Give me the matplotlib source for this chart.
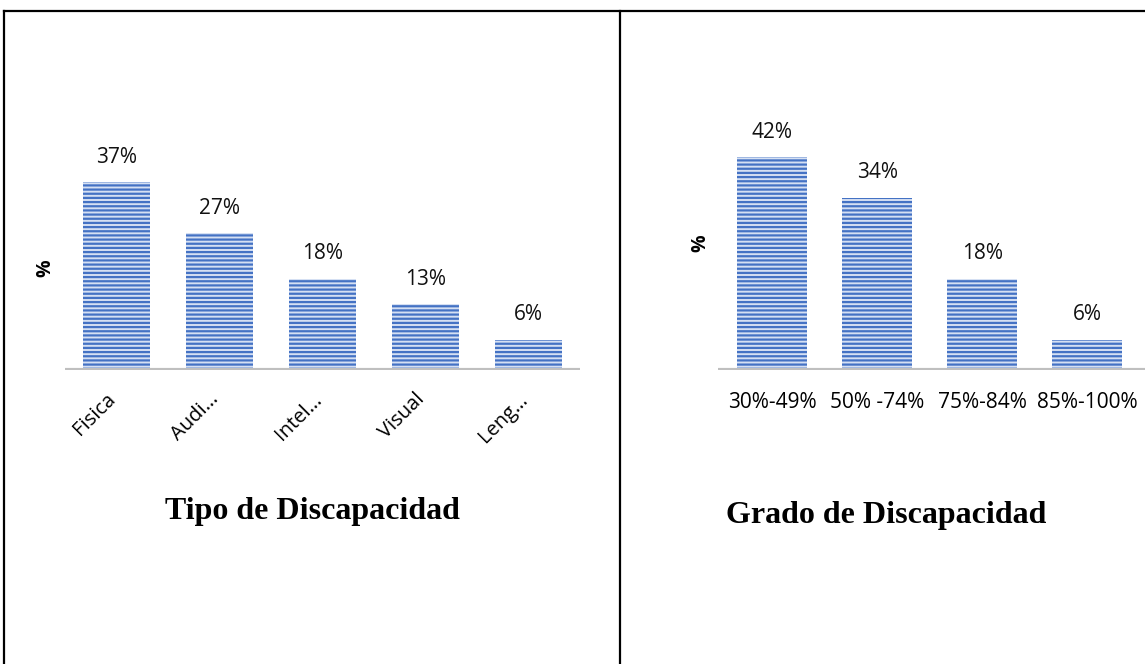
import matplotlib
matplotlib.use('Agg')
import matplotlib.pyplot as plt
from matplotlib.lines import Line2D
from matplotlib.transforms import ScaledTranslation

# datos
tipo_labels = ['Fisica', 'Audi…', 'Intel…', 'Visual', 'Leng…']
tipo_vals = [37, 27, 18, 13, 6]
grado_labels = ['30%-49%', '50% -74%', '75%-84%', '85%-100%']
grado_vals = [42, 34, 18, 6]

plt.rcParams['font.family'] = ['Open Sans', 'DejaVu Sans']
plt.rcParams['hatch.linewidth'] = 1.6

W, H = 1145, 664
fig = plt.figure(figsize=(W / 100, H / 100), dpi=100)

px_per_pct = 5.07
base_y = 370


def make_axes(left, right, top):
    return fig.add_axes([left / W, (H - base_y) / H, (right - left) / W, (base_y - top) / H])


def draw_bars(ax, vals, width):
    x = range(len(vals))
    bars = ax.bar(x, vals, width=width, color='#d5e0f3', edgecolor='#4472c4',
                  hatch='----', linewidth=0, zorder=2)
    for b, v in zip(bars, vals):
        ax.annotate(f'{v}%', (b.get_x() + b.get_width() / 2, v), xytext=(0, 18),
                    textcoords='offset points', ha='center', va='center',
                    fontsize=15, color='#111111')
    ax.axhline(0, color='#bfbfbf', lw=3, zorder=3)
    for s in ax.spines.values():
        s.set_visible(False)
    ax.set_yticks([])
    ax.tick_params(axis='x', length=0)


# grafico izquierdo
top_l = 120
ax1 = make_axes(65, 580, top_l)
ax1.set_ylim(0, (base_y - top_l) / px_per_pct)
ax1.set_xlim(-0.5, 4.5)
draw_bars(ax1, tipo_vals, 0.66)
ax1.set_xticks(range(len(tipo_labels)))
ax1.set_xticklabels(tipo_labels, rotation=45, ha='right', va='top',
                    rotation_mode='anchor', fontsize=14.5)
ax1.tick_params(axis='x', pad=14)
shift = ScaledTranslation(-0.11, 0, fig.dpi_scale_trans)
for lbl in ax1.get_xticklabels():
    lbl.set_transform(lbl.get_transform() + shift)

# grafico derecho
top_r = 100
ax2 = make_axes(718, 1145, top_r)
ax2.set_ylim(0, (base_y - top_r) / px_per_pct)
ax2.set_xlim(-0.514, 3.55)
draw_bars(ax2, grado_vals, 0.667)
ax2.set_xticks(range(len(grado_labels)))
ax2.set_xticklabels(grado_labels, fontsize=15)
ax2.tick_params(axis='x', pad=16)

fig.text(45 / W, 1 - 268 / H, '%', rotation=90, ha='center', va='center',
         fontsize=14, fontweight='bold')
fig.text(700 / W, 1 - 243 / H, '%', rotation=90, ha='center', va='center',
         fontsize=14, fontweight='bold')

fig.text(312 / W, 1 - 511 / H, 'Tipo de Discapacidad', ha='center', va='center',
         fontsize=23, fontweight='bold', family='Liberation Serif')
fig.text(886 / W, 1 - 515 / H, 'Grado de Discapacidad', ha='center', va='center',
         fontsize=23, fontweight='bold', family='Liberation Serif')

# bordes de la tabla
for xs, ys in [([4, W], [11, 11]), ([4, 4], [11, H]), ([620, 620], [11, H])]:
    fig.add_artist(Line2D([x / W for x in xs], [1 - y / H for y in ys],
                          color='black', lw=1.6))

fig.savefig('out.png', dpi=100)
